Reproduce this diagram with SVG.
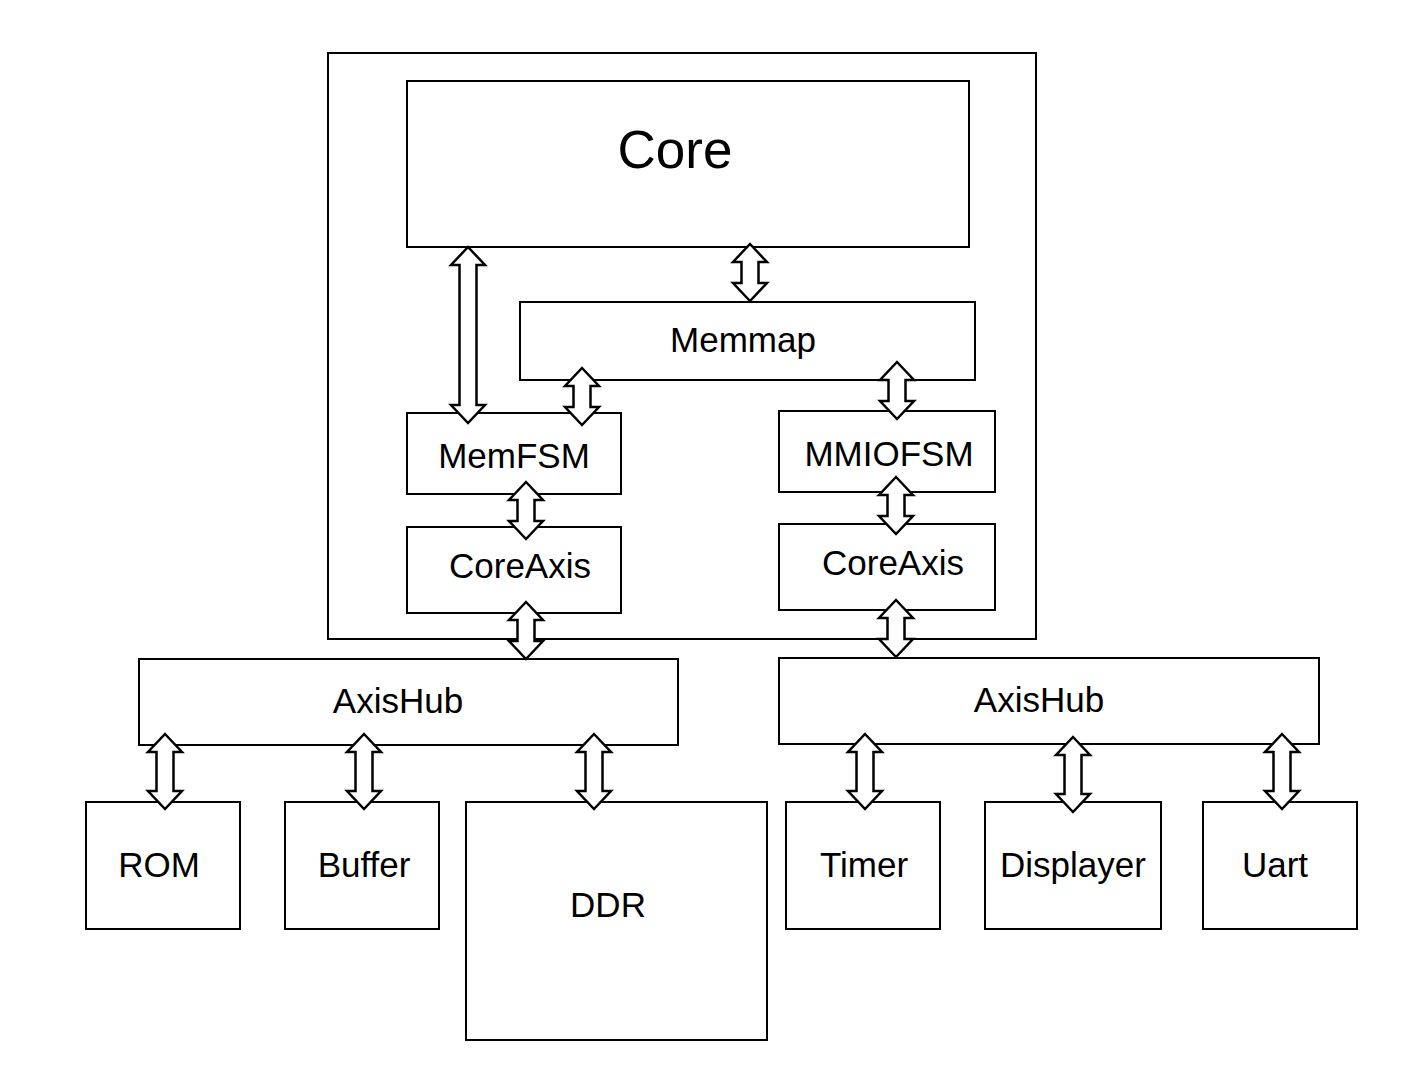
<svg xmlns="http://www.w3.org/2000/svg" width="1412" height="1078" viewBox="0 0 1412 1078">
<style>
.box{fill:#fff;stroke:#000;stroke-width:2}
.lbl{font-family:"Liberation Sans",Arial,sans-serif;font-size:35px;fill:#000;text-anchor:middle}
.big{font-size:53px}
.arr{fill:#fff;stroke:#000;stroke-width:2.5;stroke-linejoin:miter}
</style>
<rect width="1412" height="1078" fill="#fff"/>
<g id="soc">
<rect class="box" x="328" y="53" width="708" height="586"/>
</g>
<g id="core"><rect class="box" x="407" y="81" width="562" height="166"/><text class="lbl big" x="675" y="168">Core</text></g>
<g id="memmap"><rect class="box" x="520" y="302" width="455" height="78"/><text class="lbl" x="743" y="352">Memmap</text></g>
<g id="memfsm"><rect class="box" x="407" y="413" width="214" height="81"/><text class="lbl" x="514" y="468">MemFSM</text></g>
<g id="mmiofsm"><rect class="box" x="779" y="411" width="216" height="81"/><text class="lbl" x="889" y="466">MMIOFSM</text></g>
<g id="coreaxis-l"><rect class="box" x="407" y="527" width="214" height="86"/><text class="lbl" x="520" y="578">CoreAxis</text></g>
<g id="coreaxis-r"><rect class="box" x="779" y="524" width="216" height="86"/><text class="lbl" x="893" y="575">CoreAxis</text></g>
<g id="axishub-l"><rect class="box" x="139" y="659" width="539" height="86"/><text class="lbl" x="398" y="713">AxisHub</text></g>
<g id="axishub-r"><rect class="box" x="779" y="658" width="540" height="86"/><text class="lbl" x="1039" y="712">AxisHub</text></g>
<g id="rom"><rect class="box" x="86" y="802" width="154" height="127"/><text class="lbl" x="159" y="877">ROM</text></g>
<g id="buffer"><rect class="box" x="285" y="802" width="154" height="127"/><text class="lbl" x="364" y="877">Buffer</text></g>
<g id="ddr"><rect class="box" x="466" y="802" width="301" height="238"/><text class="lbl" x="608" y="917">DDR</text></g>
<g id="timer"><rect class="box" x="786" y="802" width="154" height="127"/><text class="lbl" x="864" y="877">Timer</text></g>
<g id="displayer"><rect class="box" x="985" y="802" width="176" height="127"/><text class="lbl" x="1073" y="877">Displayer</text></g>
<g id="uart"><rect class="box" x="1203" y="802" width="154" height="127"/><text class="lbl" x="1275" y="877">Uart</text></g>
<g id="connectors">
<polygon class="arr" points="750,244 767,262 758.5,262 758.5,283 767,283 750,301 733,283 741.5,283 741.5,262 733,262"/>
<polygon class="arr" points="468,247 485,265 476.5,265 476.5,405 485,405 468,423 451,405 459.5,405 459.5,265 451,265"/>
<polygon class="arr" points="582,368 599,386 590.5,386 590.5,407 599,407 582,425 565,407 573.5,407 573.5,386 565,386"/>
<polygon class="arr" points="897,362 914,380 905.5,380 905.5,401 914,401 897,419 880,401 888.5,401 888.5,380 880,380"/>
<polygon class="arr" points="526,482 543,500 534.5,500 534.5,521 543,521 526,539 509,521 517.5,521 517.5,500 509,500"/>
<polygon class="arr" points="896,477 913,495 904.5,495 904.5,516 913,516 896,534 879,516 887.5,516 887.5,495 879,495"/>
<polygon class="arr" points="526,602 543,620 534.5,620 534.5,641 543,641 526,659 509,641 517.5,641 517.5,620 509,620"/>
<polygon class="arr" points="896,600 913,618 904.5,618 904.5,639 913,639 896,657 879,639 887.5,639 887.5,618 879,618"/>
<polygon class="arr" points="165,734 182,752 173.5,752 173.5,791 182,791 165,809 148,791 156.5,791 156.5,752 148,752"/>
<polygon class="arr" points="364,734 381,752 372.5,752 372.5,791 381,791 364,809 347,791 355.5,791 355.5,752 347,752"/>
<polygon class="arr" points="594,734 611,752 602.5,752 602.5,791 611,791 594,809 577,791 585.5,791 585.5,752 577,752"/>
<polygon class="arr" points="865,734 882,752 873.5,752 873.5,791 882,791 865,809 848,791 856.5,791 856.5,752 848,752"/>
<polygon class="arr" points="1073,737 1090,755 1081.5,755 1081.5,794 1090,794 1073,812 1056,794 1064.5,794 1064.5,755 1056,755"/>
<polygon class="arr" points="1282,734 1299,752 1290.5,752 1290.5,791 1299,791 1282,809 1265,791 1273.5,791 1273.5,752 1265,752"/>
</g>
</svg>
